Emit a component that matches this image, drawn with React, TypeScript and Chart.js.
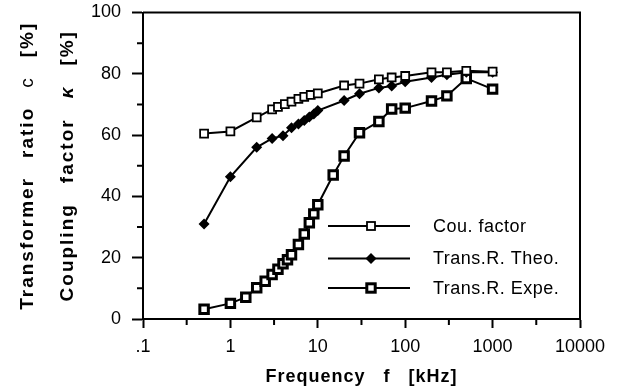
import React, { useEffect, useRef } from "react";
import { Chart, registerables } from "chart.js";

Chart.register(...registerables);

// ---- Data ----
const couFreq = [0.5, 1, 2, 3, 3.5, 4.2, 5, 6, 7, 8.3, 10, 20, 30, 50, 70, 100, 200, 300, 500, 1000];
const couValues = [60.5, 61.2, 65.8, 68.4, 69.2, 70.1, 70.9, 71.8, 72.5, 73.1, 73.6, 76.2, 76.8, 78.2, 78.8, 79.3, 80.5, 80.5, 81, 80.7];

const theoFreq = [0.5, 1, 2, 3, 4, 5, 6, 7, 8, 9, 10, 20, 30, 50, 70, 100, 200, 300, 500, 1000];
const theoValues = [31, 46.4, 56, 58.9, 59.8, 62.4, 63.6, 64.8, 65.9, 66.9, 68, 71.3, 73.5, 75.4, 76, 77.4, 78.8, 79.7, 80.5, 80.5];

const expeFreq = [0.5, 1, 1.5, 2, 2.5, 3, 3.5, 4, 4.5, 5, 6, 7, 8, 9, 10, 15, 20, 30, 50, 70, 100, 200, 300, 500, 1000];
const expeValues = [3.2, 5.1, 7.1, 10.2, 12.3, 14.5, 16.2, 18, 19.3, 21, 24.3, 27.7, 31.4, 34.3, 37.3, 47, 53.2, 60.8, 64.4, 68.5, 68.8, 71.1, 72.8, 78.5, 75];

const seriesNames = ["Cou. factor", "Trans.R. Theo.", "Trans.R. Expe."];

const xTickValues = [0.1, 1, 10, 100, 1000, 10000];
const xTickLabels = [".1", "1", "10", "100", "1000", "10000"];
const xMinorTicks = [0.316, 3.16, 31.6, 316, 3160];
const yMinorTicks = [10, 30, 50, 70, 90];

const FONT = '"Liberation Sans", Arial, Helvetica, sans-serif';

type Seg = { text: string; font: string };

function drawSegs(ctx: CanvasRenderingContext2D, segs: Seg[], gap: number, spacing: string) {
  ctx.letterSpacing = spacing;
  const widths = segs.map((s) => {
    ctx.font = s.font;
    return ctx.measureText(s.text).width;
  });
  const total = widths.reduce((a, b) => a + b, 0) + gap * (segs.length - 1);
  let x = -total / 2;
  segs.forEach((s, i) => {
    ctx.font = s.font;
    ctx.fillText(s.text, x, 0);
    x += widths[i] + gap;
  });
}

const framePlugin = {
  id: "framePlugin",
  afterDraw(chart: any) {
    const ctx: CanvasRenderingContext2D = chart.ctx;
    const { left, right, top, bottom } = chart.chartArea;
    const xs = chart.scales.x;
    const ys = chart.scales.y;
    ctx.save();
    ctx.strokeStyle = "#000";
    ctx.lineWidth = 2;
    ctx.beginPath();
    ctx.moveTo(left, top);
    ctx.lineTo(right, top);
    ctx.lineTo(right, bottom);
    ctx.stroke();
    // minor ticks
    ctx.beginPath();
    xMinorTicks.forEach((v) => {
      const px = xs.getPixelForValue(v);
      ctx.moveTo(px, bottom);
      ctx.lineTo(px, bottom + 6);
    });
    yMinorTicks.forEach((v) => {
      const py = ys.getPixelForValue(v);
      ctx.moveTo(left, py);
      ctx.lineTo(left - 6, py);
    });
    ctx.stroke();

    // axis titles
    ctx.fillStyle = "#000";
    ctx.textBaseline = "alphabetic";
    ctx.textAlign = "left";
    const cy = (top + bottom) / 2;
    ctx.save();
    ctx.translate(33, cy);
    ctx.rotate(-Math.PI / 2);
    drawSegs(
      ctx,
      [
        { text: "Transformer", font: `bold 19px ${FONT}` },
        { text: "ratio", font: `bold 19px ${FONT}` },
        { text: "c", font: `19px ${FONT}` },
        { text: "[%]", font: `bold 19px ${FONT}` },
      ],
      19,
      "2px"
    );
    ctx.restore();
    ctx.save();
    ctx.translate(73, cy);
    ctx.rotate(-Math.PI / 2);
    drawSegs(
      ctx,
      [
        { text: "Coupling", font: `bold 19px ${FONT}` },
        { text: "factor", font: `bold 19px ${FONT}` },
        { text: "κ", font: `italic bold 19px ${FONT}` },
        { text: "[%]", font: `bold 19px ${FONT}` },
      ],
      20,
      "2px"
    );
    ctx.restore();
    ctx.save();
    ctx.translate((left + right) / 2, 382);
    drawSegs(
      ctx,
      [
        { text: "Frequency", font: `bold 18px ${FONT}` },
        { text: "f", font: `bold 18px ${FONT}` },
        { text: "[kHz]", font: `bold 18px ${FONT}` },
      ],
      18,
      "1px"
    );
    ctx.restore();

    // legend
    const legendX1 = xs.getPixelForValue(0.1) + 185;
    const rows = [226, 258.5, 288];
    ctx.lineWidth = 2;
    rows.forEach((ry, i) => {
      ctx.beginPath();
      ctx.moveTo(legendX1, ry);
      ctx.lineTo(legendX1 + 82, ry);
      ctx.stroke();
      const mx = legendX1 + 43;
      if (i === 0) {
        ctx.fillStyle = "#fff";
        ctx.lineWidth = 1.8;
        ctx.fillRect(mx - 4, ry - 4, 8, 8);
        ctx.strokeRect(mx - 4, ry - 4, 8, 8);
      } else if (i === 1) {
        ctx.fillStyle = "#000";
        ctx.beginPath();
        ctx.moveTo(mx - 5.5, ry);
        ctx.lineTo(mx, ry - 5.5);
        ctx.lineTo(mx + 5.5, ry);
        ctx.lineTo(mx, ry + 5.5);
        ctx.closePath();
        ctx.fill();
      } else {
        ctx.fillStyle = "#fff";
        ctx.lineWidth = 3;
        ctx.fillRect(mx - 4.2, ry - 4.2, 8.4, 8.4);
        ctx.strokeRect(mx - 4.2, ry - 4.2, 8.4, 8.4);
      }
      ctx.lineWidth = 2;
      ctx.fillStyle = "#000";
      ctx.font = `18px ${FONT}`;
      ctx.letterSpacing = "0.5px";
      ctx.textBaseline = "middle";
      ctx.fillText(seriesNames[i], legendX1 + 105, ry + 1);
    });
    ctx.restore();
  },
};

export default function App() {
  const ref = useRef<HTMLCanvasElement | null>(null);
  useEffect(() => {
    if (!ref.current) return;
    const mk = (f: number[], v: number[]) => f.map((x, i) => ({ x, y: v[i] }));
    const chart = new Chart(ref.current, {
      type: "scatter",
      data: {
        datasets: [
          {
            label: seriesNames[0],
            data: mk(couFreq, couValues),
            showLine: true,
            borderColor: "#000",
            borderWidth: 2,
            pointStyle: "rect",
            pointRadius: 5.6,
            pointBorderWidth: 1.8,
            pointBackgroundColor: "#fff",
            pointBorderColor: "#000",
          },
          {
            label: seriesNames[1],
            data: mk(theoFreq, theoValues),
            showLine: true,
            borderColor: "#000",
            borderWidth: 2,
            pointStyle: "rectRot",
            pointRadius: 5.5,
            pointBorderWidth: 0,
            pointBackgroundColor: "#000",
            pointBorderColor: "#000",
          },
          {
            label: seriesNames[2],
            data: mk(expeFreq, expeValues),
            showLine: true,
            borderColor: "#000",
            borderWidth: 2,
            pointStyle: "rect",
            pointRadius: 6,
            pointBorderWidth: 3,
            pointBackgroundColor: "#fff",
            pointBorderColor: "#000",
          },
        ],
      },
      options: {
        responsive: false,
        animation: false,
        devicePixelRatio: 1,
        layout: { padding: { top: 12.5, right: 39, left: 0, bottom: 0 } },
        plugins: { legend: { display: false }, tooltip: { enabled: false } },
        scales: {
          x: {
            type: "logarithmic",
            min: 0.1,
            max: 10000,
            afterBuildTicks: (s: any) => {
              s.ticks = xTickValues.map((v) => ({ value: v }));
            },
            afterFit: (s: any) => {
              s.height = 69;
              s.paddingLeft = 0;
              s.paddingRight = 0;
            },
            ticks: {
              autoSkip: false,
              maxRotation: 0,
              padding: 8,
              color: "#000",
              font: { family: FONT, size: 18 },
              callback: (v: any) => {
                const i = xTickValues.findIndex((t) => Math.abs(t - Number(v)) < 1e-9 * Math.max(1, t));
                return i >= 0 ? xTickLabels[i] : "";
              },
            },
            grid: { drawOnChartArea: false, tickLength: 9, tickWidth: 2, tickColor: "#000" },
            border: { display: true, color: "#000", width: 2 },
          },
          y: {
            min: 0,
            max: 100,
            ticks: {
              stepSize: 20,
              padding: 11,
              color: "#000",
              font: { family: FONT, size: 18 },
            },
            afterFit: (s: any) => {
              s.width = 143;
              s.paddingTop = 0;
              s.paddingBottom = 0;
            },
            grid: { drawOnChartArea: false, tickLength: 11, tickWidth: 2, tickColor: "#000" },
            border: { display: true, color: "#000", width: 2 },
          },
        },
      },
      plugins: [framePlugin],
    });
    return () => chart.destroy();
  }, []);
  return (
    <div style={{ position: "absolute", left: 0, top: 0, width: 619, height: 388, background: "#fff" }}>
      <canvas ref={ref} width={619} height={388} style={{ display: "block" }} />
    </div>
  );
}
